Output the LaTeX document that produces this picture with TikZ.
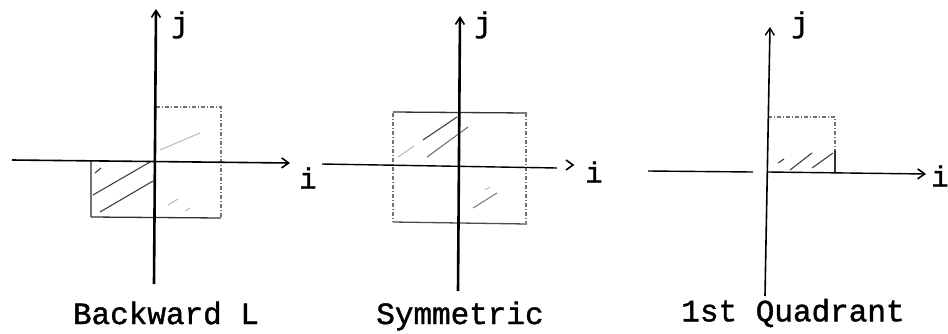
\documentclass[tikz,border=0pt]{standalone}
\usepackage{fontspec}
\newfontfamily\twfont[FakeBold=1.3]{Liberation Mono}
\usetikzlibrary{arrows.meta}
\tikzset{
  axisv/.style={line width=2.6pt,-{Straight Barb[length=7pt,width=9pt,line width=1.6pt]}},
  axish/.style={line width=1.6pt,-{Straight Barb[length=7pt,width=10pt,line width=1.6pt]}},
  plainh/.style={line width=1.4pt},
  solidedge/.style={line width=1.3pt,black!80},
  dotedge/.style={line width=1.1pt,black!55,dash pattern=on 4pt off 2pt on 1pt off 2pt},
  hatch/.style={line width=1.1pt,black!75},
  faint/.style={line width=0.9pt,black!30},
  lbl/.style={font=\twfont\fontsize{31}{31}\selectfont,inner sep=0pt},
  axlbl/.style={font=\twfont\fontsize{29}{29}\selectfont,inner sep=0pt}
}
\begin{document}
\begin{tikzpicture}[x=1pt,y=-1pt]
\useasboundingbox (0,0) rectangle (948,333);
% ---------- Panel 1: Backward L ----------
\coordinate (a1s) at (12,160);  \coordinate (a1e) at (290,163);
\coordinate (b1s) at (154,284); \coordinate (b1e) at (156,9);
\draw[solidedge,black!55] (91,160) -- (91,217);
\draw[solidedge] (91,217) -- (221,218);
\draw[dotedge] (221,217) -- (221,107) -- (156,107);
\draw[hatch] (93,195) -- (150,162);
\draw[hatch] (100,212) -- (153,181);
\draw[hatch] (95,173) -- (101,168);
\draw[faint] (160,150) -- (200,133);
\draw[faint] (168,205) -- (178,199);
\draw[faint] (185,211) -- (190,208);
\draw[axish] (a1s) -- (a1e);
\draw[axisv] (b1s) -- (b1e);
\node[axlbl] (j1) at (180,25) {j};
\node[axlbl] (i1) at (308,178) {i};
\node[lbl] (t1) at (166,313) {Backward L};
% ---------- Panel 2: Symmetric ----------
\coordinate (a2s) at (322,164);  \coordinate (a2e) at (557,168);
\coordinate (b2s) at (458,291); \coordinate (b2e) at (460,16);
\draw[solidedge] (393,112) -- (527,113);
\draw[dotedge] (393,113) -- (393,222);
\draw[solidedge,black!70] (393,222) -- (527,224);
\draw[dotedge] (526,113) -- (526,223);
\draw[hatch] (423,140) -- (457,117);
\draw[hatch,black!55] (427,157) -- (468,127);
\draw[faint] (398,157) -- (414,146);
\draw[hatch,black!50] (473,208) -- (497,193);
\draw[faint] (485,190) -- (490,187);
\draw[plainh] (a2s) -- (a2e);
\draw[line width=1.6pt] (566,160) -- (573,165) -- (566,170);
\draw[axisv] (b2s) -- (b2e);
\node[axlbl] (j2) at (483,25) {j};
\node[axlbl] (i2) at (594,172) {i};
\node[lbl] (t2) at (460,316) {Symmetric};
% ---------- Panel 3: 1st Quadrant ----------
\coordinate (a3s) at (648,171); \coordinate (a3m) at (753,172);
\coordinate (a3o) at (768,172); \coordinate (a3e) at (926,174);
\coordinate (b3s) at (765,296); \coordinate (b3e) at (770,27);
\draw[dotedge] (768,117) -- (835,117) -- (835,150);
\draw[solidedge] (835,150) -- (835,172);
\draw[hatch] (778,163) -- (784,159);
\draw[hatch] (790,170) -- (812,153);
\draw[hatch] (812,168) -- (833,153);
\draw[plainh] (a3s) -- (a3m);
\draw[plainh,-{Straight Barb[length=7pt,width=10pt,line width=1.6pt]}] (a3o) -- (a3e);
\draw[line width=1.6pt,-{Straight Barb[length=7pt,width=9pt,line width=1.4pt]}] (b3s) -- (b3e);
\node[axlbl] (j3) at (800,25) {j};
\node[axlbl] (i3) at (940,176) {i};
\node[lbl] (t3) at (793,313) {1st Quadrant};
\end{tikzpicture}
\end{document}
